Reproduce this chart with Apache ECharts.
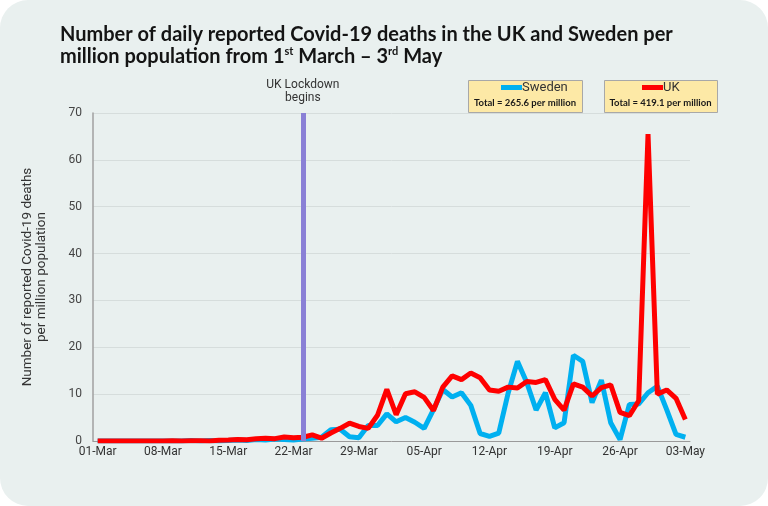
<!DOCTYPE html>
<html>
<head>
<meta charset="utf-8">
<script src="https://cdn.jsdelivr.net/npm/echarts@6/dist/echarts.min.js"></script>
<style>
  html, body { margin: 0; padding: 0; background: #ffffff; }
  #main { width: 768px; height: 506px; background: #e9f0ef; border-radius: 28px; }
</style>
</head>
<body>
<div id="main"></div>
<script>
// daily dates, 1 March - 3 May
const dates = [
    '01-Mar','02-Mar','03-Mar','04-Mar','05-Mar','06-Mar','07-Mar','08-Mar','09-Mar','10-Mar',
    '11-Mar','12-Mar','13-Mar','14-Mar','15-Mar','16-Mar','17-Mar','18-Mar','19-Mar','20-Mar',
    '21-Mar','22-Mar','23-Mar','24-Mar','25-Mar','26-Mar','27-Mar','28-Mar','29-Mar','30-Mar','31-Mar',
    '01-Apr','02-Apr','03-Apr','04-Apr','05-Apr','06-Apr','07-Apr','08-Apr','09-Apr','10-Apr',
    '11-Apr','12-Apr','13-Apr','14-Apr','15-Apr','16-Apr','17-Apr','18-Apr','19-Apr','20-Apr',
    '21-Apr','22-Apr','23-Apr','24-Apr','25-Apr','26-Apr','27-Apr','28-Apr','29-Apr','30-Apr',
    '01-May','02-May','03-May'
];

// deaths per million population
const sweden = [
    0, 0, 0, 0, 0, 0, 0, 0, 0, 0,
    0.1, 0, 0.1, 0, 0.1, 0.2, 0.1, 0.3, 0.2, 0.4,
    0.3, 0.2, 0.4, 0.6, 0.8, 2.4, 2.5, 0.9, 0.7, 3.3, 3.3,
    5.8, 4.1, 5.0, 4.0, 2.7, 6.7, 11.0, 9.4, 10.3, 7.6,
    1.6, 1.0, 1.7, 10.2, 17.0, 12.5, 6.6, 10.3, 2.8, 3.9,
    18.3, 17.0, 8.2, 13.0, 3.9, 0.3, 7.8, 7.9, 10.3, 11.7,
    6.7, 1.4, 0.8
];
const uk = [
    0, 0, 0, 0, 0.02, 0.02, 0.02, 0, 0.03, 0.02,
    0.03, 0.03, 0.02, 0.15, 0.2, 0.3, 0.25, 0.5, 0.6, 0.5,
    0.85, 0.7, 0.8, 1.3, 0.6, 1.7, 2.7, 3.8, 3.1, 2.7, 5.5,
    11.0, 5.6, 10.1, 10.5, 9.3, 6.5, 11.5, 13.9, 13.1, 14.5,
    13.5, 10.9, 10.6, 11.5, 11.3, 12.7, 12.5, 13.1, 8.9, 6.6,
    12.2, 11.5, 9.6, 11.4, 12.0, 6.1, 5.4, 8.6, 65.5, 10.0,
    10.9, 9.1, 4.6
];

const seriesNames = ['Sweden', 'UK'];
const seriesColors = ['#00b0f0', '#ff0000'];
const totals = ['Total = 265.6 per million', 'Total = 419.1 per million'];
const lockdownDate = '23-Mar';
const lockdownLabel = 'UK Lockdown\nbegins';

let myChart = echarts.init(document.getElementById('main'), null, { renderer: 'canvas' });

let option = {
    animation: false,
    backgroundColor: 'transparent',
    textStyle: { fontFamily: 'Roboto' },
    title: {
        left: 55,
        top: 19,
        text: '{t|Number of daily reported Covid-19 deaths in the UK and Sweden per}\n'
            + '{t|million population from 1}{s|st}{t| March \u2013 3}{s|rd}{t| May}',
        textStyle: {
            rich: {
                t: { fontFamily: 'Lato', fontWeight: 'bold', fontSize: 20, color: '#141414', lineHeight: 22 },
                s: { fontFamily: 'Lato', fontWeight: 'bold', fontSize: 11, color: '#141414', verticalAlign: 'top', lineHeight: 22, padding: [0, 0, 6, 0] }
            }
        }
    },
    legend: [
        {
            left: 501, top: 81, padding: 0,
            data: [seriesNames[0]],
            icon: 'rect', itemWidth: 21, itemHeight: 5,
            textStyle: { fontSize: 13, color: '#333', fontFamily: 'Roboto', padding: [0, 0, 0, -5] }
        },
        {
            left: 642, top: 81, padding: 0,
            data: [seriesNames[1]],
            icon: 'rect', itemWidth: 21, itemHeight: 5,
            textStyle: { fontSize: 13, color: '#333', fontFamily: 'Roboto', padding: [0, 0, 0, -5] }
        }
    ],
    graphic: [
        {
            type: 'rect', left: 468, top: 80, z: 0,
            shape: { width: 114, height: 32 },
            style: { fill: '#fde9a6', stroke: '#a8a8a8', lineWidth: 1 }
        },
        {
            type: 'rect', left: 604, top: 80, z: 0,
            shape: { width: 113, height: 32 },
            style: { fill: '#fde9a6', stroke: '#a8a8a8', lineWidth: 1 }
        },
        {
            type: 'text', x: 525, y: 103, z: 10,
            style: { text: totals[0], font: 'bold 9.5px Lato', fill: '#1a1a1a', textAlign: 'center', textVerticalAlign: 'middle' }
        },
        {
            type: 'text', x: 660.5, y: 103, z: 10,
            style: { text: totals[1], font: 'bold 9.5px Lato', fill: '#1a1a1a', textAlign: 'center', textVerticalAlign: 'middle' }
        }
    ],
    grid: {
        left: 93,
        right: 78,
        top: 113,
        bottom: 65
    },
    xAxis: {
        type: 'category',
        data: dates,
        boundaryGap: true,
        axisLine: { lineStyle: { color: '#9a9a9a', width: 1 } },
        axisTick: { interval: 6, length: 4, lineStyle: { color: '#777' } },
        axisLabel: { interval: 6, color: '#333', fontSize: 12, margin: 5 }
    },
    yAxis: {
        type: 'value',
        min: 0,
        max: 70,
        interval: 10,
        name: 'Number of reported Covid-19 deaths\nper million population',
        nameLocation: 'middle',
        nameRotate: 90,
        nameGap: 44,
        nameTextStyle: { fontSize: 13.5, color: '#333', lineHeight: 14 },
        axisLine: { show: true, lineStyle: { color: '#a0a0a0', width: 1.5 } },
        axisTick: { show: false },
        axisLabel: { color: '#444', fontSize: 12, margin: 11 },
        splitLine: { lineStyle: { color: '#d6dddc', width: 1 } }
    },
    series: [
        {
            name: seriesNames[0],
            type: 'line',
            data: sweden,
            showSymbol: false,
            color: seriesColors[0],
            lineStyle: { color: seriesColors[0], width: 5 }
        },
        {
            name: seriesNames[1],
            type: 'line',
            data: uk,
            showSymbol: false,
            color: seriesColors[1],
            lineStyle: { color: seriesColors[1], width: 5 },
            markLine: {
                silent: true,
                symbol: 'none',
                lineStyle: { type: 'solid', color: '#8a80d6', width: 5 },
                label: {
                    position: 'end',
                    formatter: lockdownLabel,
                    color: '#333',
                    fontSize: 12,
                    lineHeight: 13,
                    fontFamily: 'Roboto',
                    distance: 9
                },
                data: [
                    { xAxis: lockdownDate }
                ]
            }
        }
    ]
};

myChart.setOption(option);
</script>
</body>
</html>
